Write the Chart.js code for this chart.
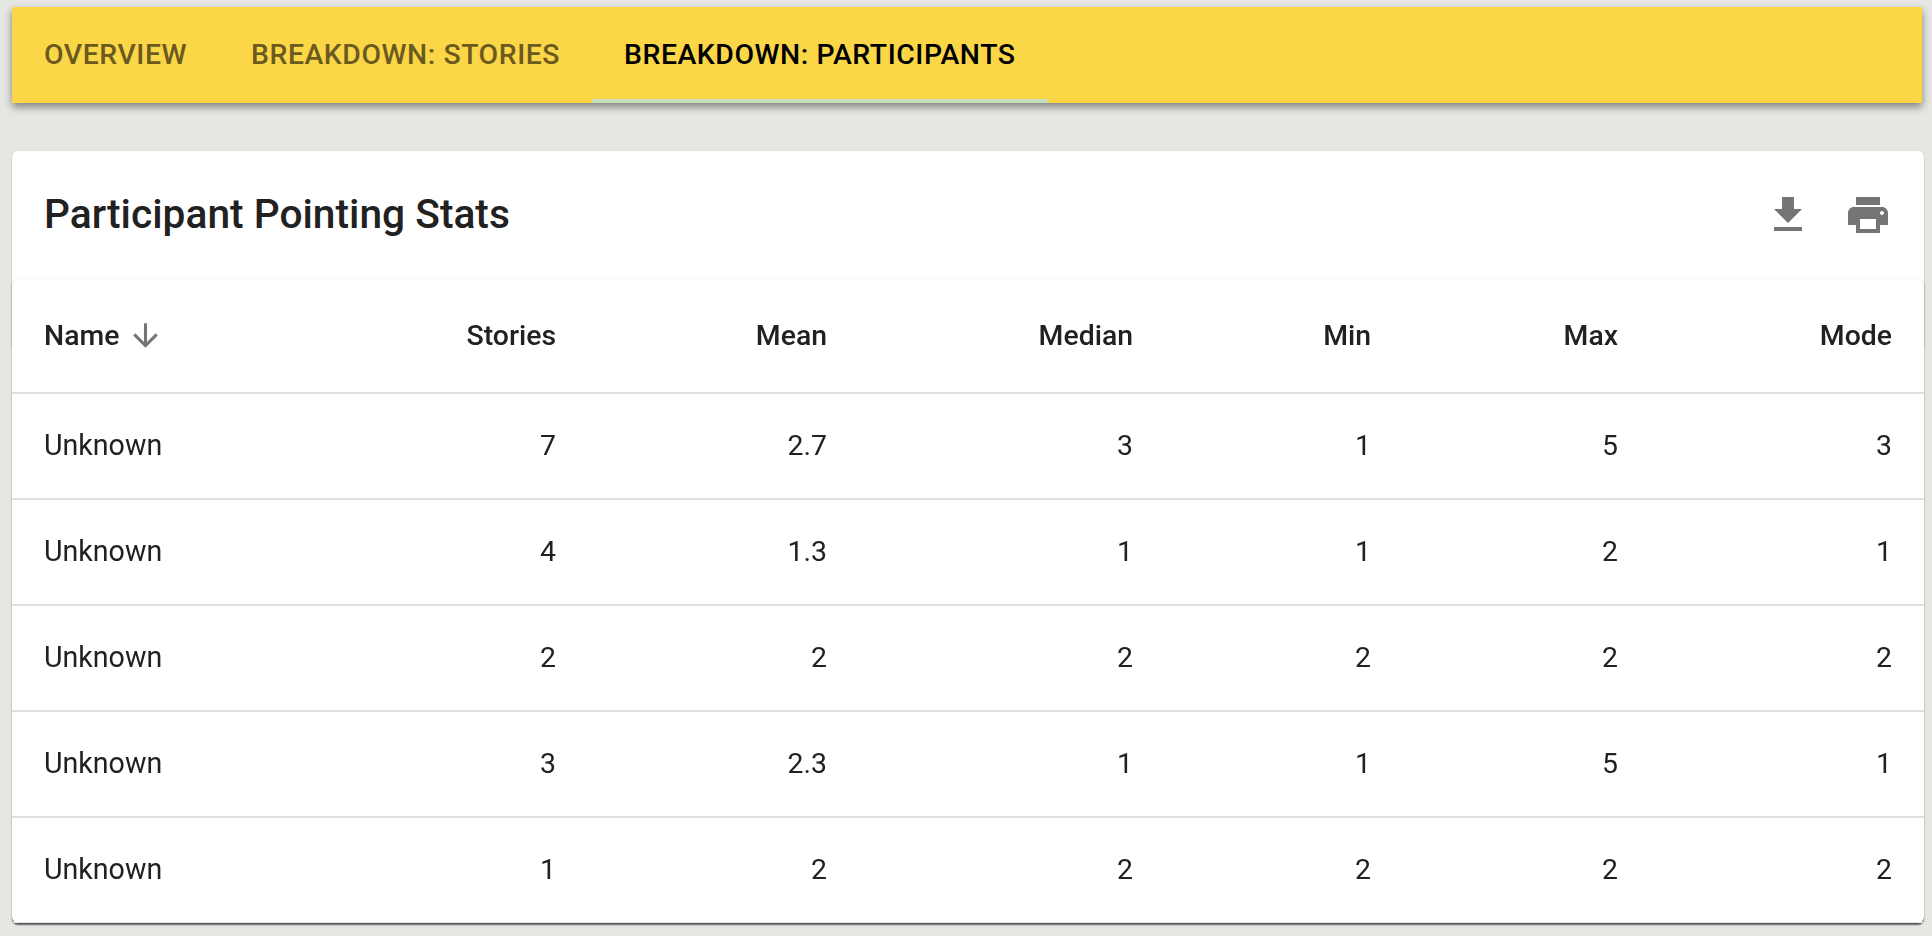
<!DOCTYPE html>
<html>
<head>
<meta charset="utf-8">
<script src="https://cdn.jsdelivr.net/npm/chart.js@4"></script>
<style>
html,body{margin:0;padding:0;width:1932px;height:936px;overflow:hidden;background:#e6e7e2;font-family:Roboto,sans-serif}
#bar{position:absolute;left:12px;top:7px;width:1910px;height:96px;background:#fbd748;box-shadow:0 4px 8px rgba(0,0,0,.45)}
#bar span{position:absolute;top:0;height:96px;line-height:95px;font-size:28.4px;font-weight:500;letter-spacing:.55px;color:#6b5a1f;white-space:nowrap}
#bar span.on{color:#000}
#ink{position:absolute;left:580px;top:92px;width:456px;height:4px;background:#c9e0be}
#card{position:absolute;left:12px;top:151px;width:1912px;height:200px;background:#fff;border-radius:6px;box-shadow:0 1px 2px rgba(0,0,0,.25)}
#title{position:absolute;left:32px;top:0;height:127px;line-height:127px;font-size:40.7px;font-weight:500;color:#212121;white-space:nowrap}
#table{position:absolute;left:12px;top:279px;width:1912px;height:644px;background:#fff;border-radius:6px;box-shadow:0 1.5px 1.5px rgba(0,0,0,.6),0 -1px 2px rgba(0,0,0,.02)}
#table canvas{display:block;width:1912px;height:644px}
#nameHead{position:absolute;left:32px;top:0;height:114px;line-height:114px;font-size:28.4px;font-weight:500;color:#212121}
svg{position:absolute;fill:#757575}
</style>
</head>
<body>
<div id="bar">
  <span style="left:32px">OVERVIEW</span>
  <span style="left:239px">BREAKDOWN: STORIES</span>
  <span class="on" style="left:612px">BREAKDOWN: PARTICIPANTS</span>
  <div id="ink"></div>
</div>
<div id="card"><div id="title">Participant Pointing Stats</div></div>
<svg style="left:1764px;top:191px" width="48" height="48" viewBox="0 0 24 24"><path d="M19 9h-4V3H9v6H5l7 7 7-7zM5 18v2h14v-2H5z"/></svg>
<svg style="left:1844px;top:191px" width="48" height="48" viewBox="0 0 24 24"><path d="M19 8H5c-1.66 0-3 1.34-3 3v6h4v4h12v-4h4v-6c0-1.66-1.34-3-3-3zm-3 11H8v-5h8v5zm3-7c-.55 0-1-.45-1-1s.45-1 1-1 1 .45 1 1-.45 1-1 1zm-1-9H6v4h12V3z"/></svg>
<div id="table">
  <canvas id="c" width="1912" height="644"></canvas>
  <div id="nameHead">Name</div>
  <svg style="left:115px;top:38px" width="37" height="37" viewBox="0 0 24 24"><path d="M20 12l-1.41-1.41L13 16.17V4h-2v12.17l-5.58-5.6L4 12l8 8 8-8z"/></svg>
</div>
<script>
// ---- data ----
const names   = ["Unknown","Unknown","Unknown","Unknown","Unknown"];
const columns = ["Stories","Mean","Median","Min","Max","Mode"];
const stories = ["7","4","2","3","1"];
const mean    = ["2.7","1.3","2","2.3","2"];
const median  = ["3","1","2","1","2"];
const min     = ["1","1","2","1","2"];
const max     = ["5","2","2","5","2"];
const mode    = ["3","1","2","1","2"];
const seriesByColumn = [stories, mean, median, min, max, mode];

// ---- layout: right edge of every column, in px from the left of the canvas ----
const columnRightEdges = [544, 815, 1121, 1359, 1606, 1880];

class ColumnScale extends Chart.CategoryScale {
  getPixelForValue(value) {
    const i = typeof value === 'number' ? value : this.parse(value);
    return this.left + this.options.rightEdges[i];
  }
}
ColumnScale.id = 'column';
ColumnScale.defaults = Chart.CategoryScale.defaults;
Chart.register(ColumnScale);

const noPadding = s => { s.paddingLeft = s.paddingRight = s.paddingTop = s.paddingBottom = 0; };

const cellText = {
  id: 'cellText',
  afterDatasetsDraw(chart) {
    const ctx = chart.ctx;
    ctx.save();
    ctx.font = '400 28.4px Roboto';
    ctx.fillStyle = '#212121';
    ctx.textAlign = 'right';
    ctx.textBaseline = 'middle';
    chart.data.datasets.forEach((ds, d) => {
      chart.getDatasetMeta(d).data.forEach((pt, i) => {
        ctx.fillText(ds.texts[i], pt.x, pt.y + 2);
      });
    });
    ctx.restore();
  }
};

new Chart(document.getElementById('c'), {
  type: 'scatter',
  data: {
    datasets: columns.map((col, c) => ({
      label: col,
      texts: seriesByColumn[c],
      pointRadius: 0,
      data: names.map((n, r) => ({ x: col, y: n }))
    }))
  },
  options: {
    responsive: false,
    maintainAspectRatio: false,
    animation: false,
    events: [],
    layout: { padding: 0 },
    plugins: { legend: { display: false }, tooltip: { enabled: false } },
    scales: {
      x: {
        type: 'column',
        position: 'top',
        labels: columns,
        rightEdges: columnRightEdges,
        afterFit(s) { s.height = 114; noPadding(s); },
        grid: { display: false, drawTicks: false },
        border: { display: false },
        ticks: {
          align: 'end', autoSkip: false, maxRotation: 0, padding: 38.5,
          color: '#212121', font: { family: 'Roboto', size: 28.4, weight: '500' }
        }
      },
      y: {
        type: 'category',
        position: 'left',
        offset: true,
        labels: names,
        afterFit(s) { s.width = 0; noPadding(s); },
        border: { display: false },
        grid: {
          offset: true, drawTicks: false, lineWidth: 2,
          color: c => c.index === names.length ? 'rgba(0,0,0,0)' : '#e0e0e0'
        },
        ticks: {
          mirror: true, padding: 32, autoSkip: false, labelOffset: 2,
          color: '#212121', font: { family: 'Roboto', size: 28.6, weight: '400' }
        }
      }
    }
  },
  plugins: [cellText]
});
</script>
</body>
</html>
